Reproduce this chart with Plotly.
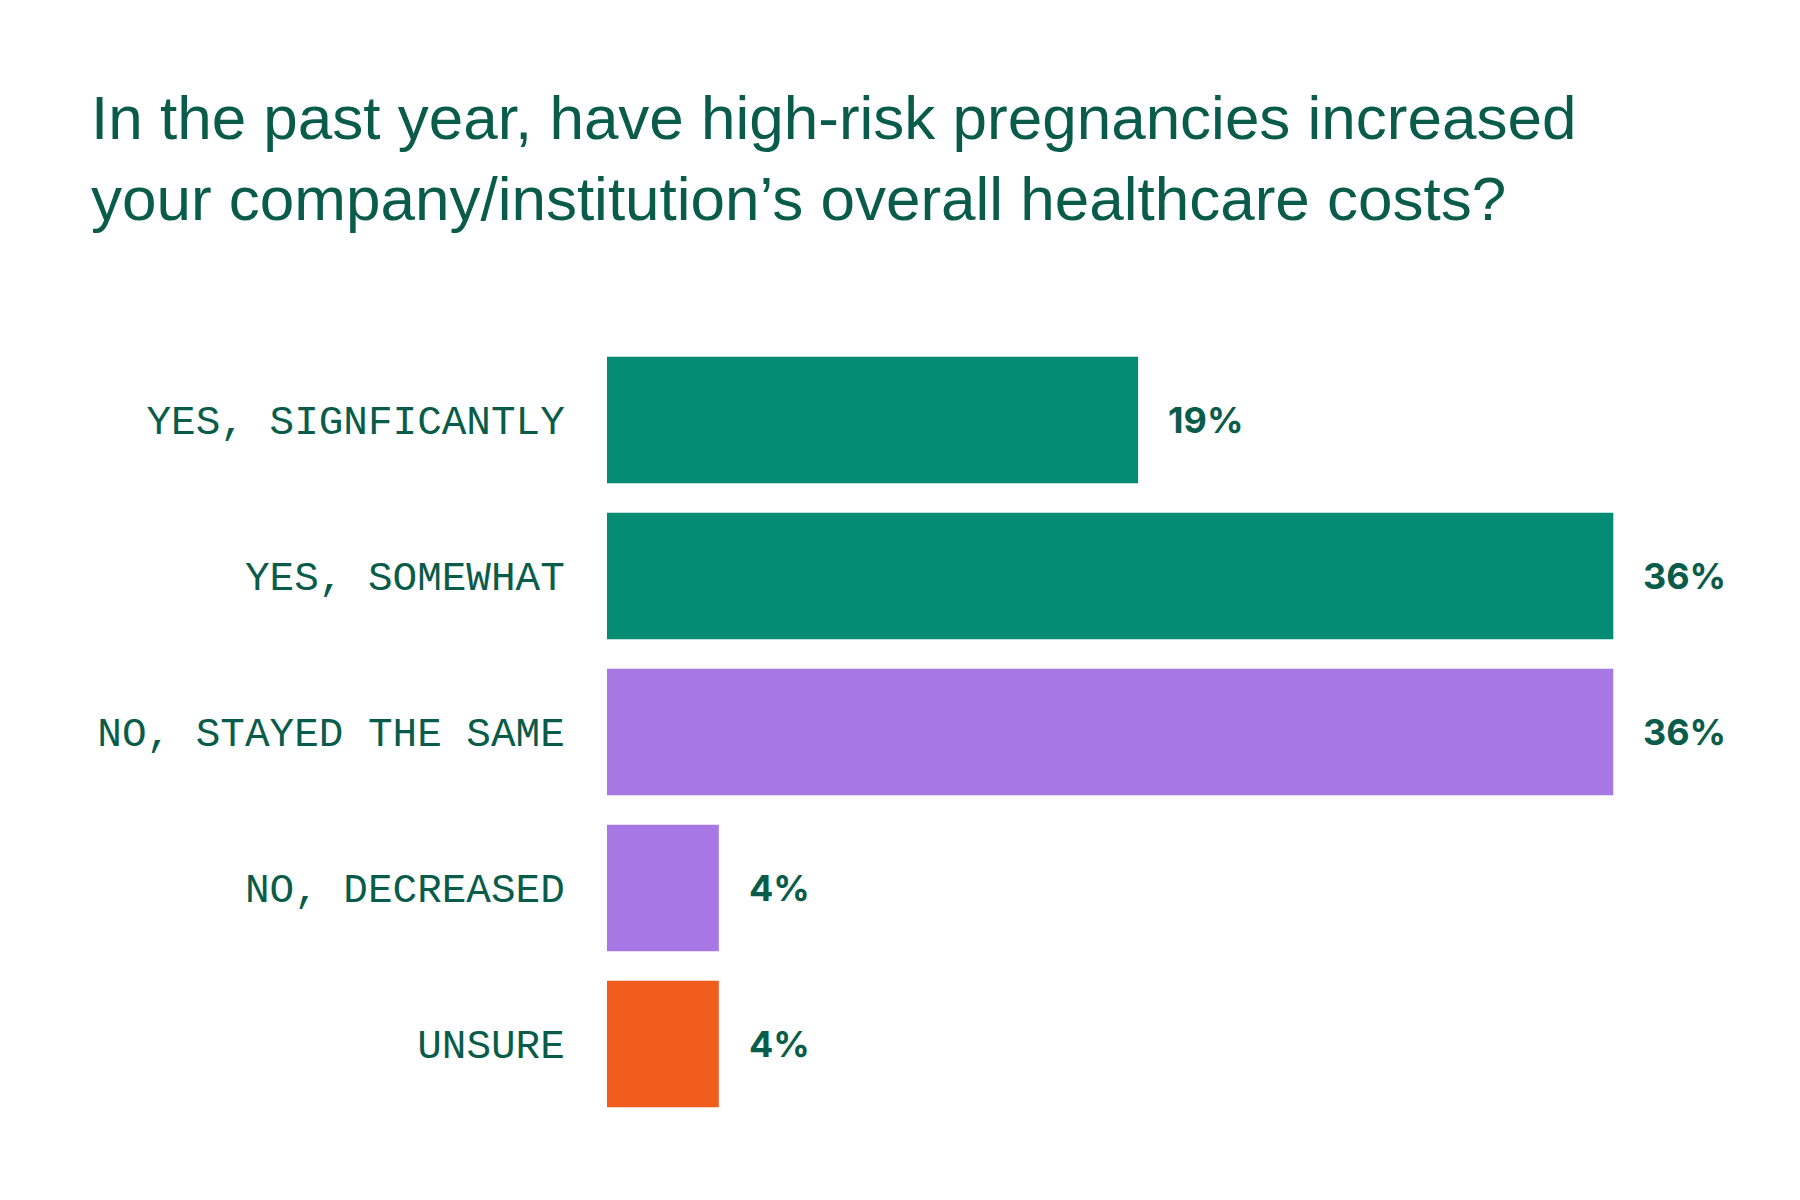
import plotly.graph_objects as go

categories = ["YES, SIGNFICANTLY", "YES, SOMEWHAT", "NO, STAYED THE SAME", "NO, DECREASED", "UNSURE"]
values = [19, 36, 36, 4, 4]
bar_colors = ["#038c73", "#038c73", "#a777e3", "#a777e3", "#f05d1c"]
title_text = "In the past year, have high-risk pregnancies increased<br>your company/institution’s overall healthcare costs?"

TEXT = "#0a5c4a"

fig = go.Figure()
fig.add_trace(go.Bar(
    x=values, y=categories, orientation="h",
    marker=dict(color=bar_colors, line=dict(width=0)),
    hoverinfo="skip",
))

for c, v in zip(categories, values):
    fig.add_annotation(
        x=v, y=c, xref="x", yref="y",
        text=f"<b>{v}%</b>", showarrow=False,
        xanchor="left", yanchor="middle", xshift=28,
        font=dict(family="Inter, Roboto, sans-serif", size=36, color=TEXT),
    )

fig.update_layout(
    width=1800, height=1200,
    paper_bgcolor="white", plot_bgcolor="white",
    margin=dict(l=599, r=27, t=334, b=86),
    bargap=0.19,
    showlegend=False,
    title=dict(
        text=title_text,
        x=83/1800, xref="container", xanchor="left",
        y=1 - 131/1200, yref="container", yanchor="top",
        font=dict(family="Liberation Sans, Arial, sans-serif", size=62, color=TEXT),
    ),
)
fig.update_xaxes(range=[0, 42], visible=False, showgrid=False, zeroline=False)
fig.update_yaxes(
    autorange="reversed", showgrid=False, zeroline=False, showline=False,
    ticks="outside", ticklen=33, tickcolor="rgba(0,0,0,0)",
    tickfont=dict(family="Liberation Mono, DejaVu Sans Mono, monospace", size=41, color=TEXT),
)

fig.write_html("out.html")
